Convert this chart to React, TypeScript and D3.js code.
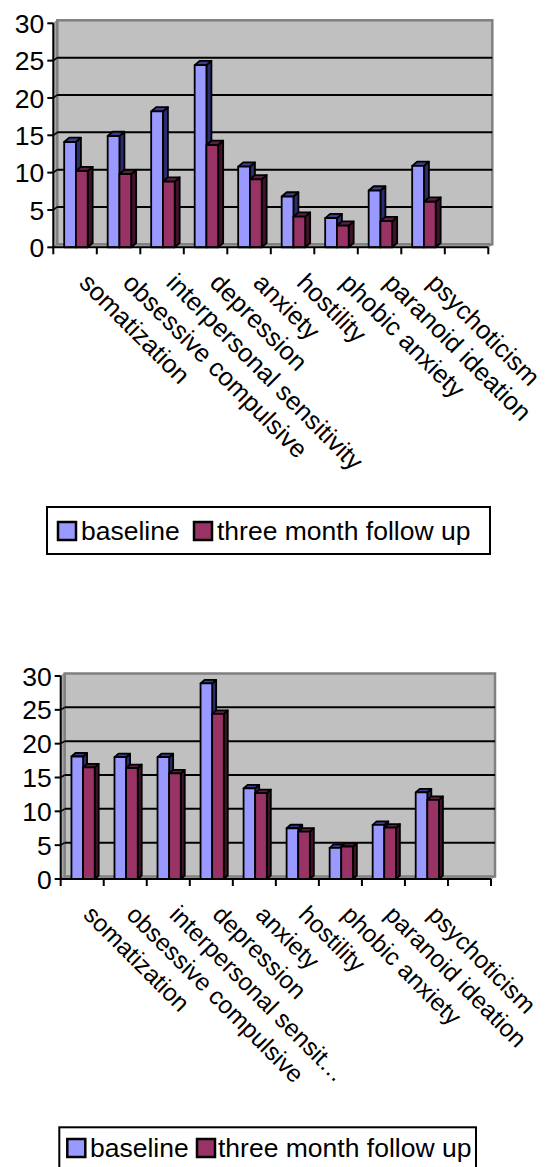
import React from "react";
import * as d3 from "d3";

// SCL-90 subscale scores, baseline vs. three month follow up
const categoriesTop = [
  "somatization",
  "obsessive compulsive",
  "interpersonal sensitivity",
  "depression",
  "anxiety",
  "hostility",
  "phobic anxiety",
  "paranoid ideation",
  "psychoticism",
];
const categoriesBottom = [
  "somatization",
  "obsessive compulsive",
  "interpersonal sensit…",
  "depression",
  "anxiety",
  "hostility",
  "phobic anxiety",
  "paranoid ideation",
  "psychoticism",
];
// the category axis has one trailing empty slot
const emptySlot = "";

const topBaseline = [14.1, 14.9, 18.2, 24.4, 10.8, 6.8, 3.9, 7.6, 10.9];
const topFollowUp = [10.2, 9.8, 8.8, 13.7, 9.1, 4.1, 2.9, 3.5, 6.1];
const bottomBaseline = [18.1, 18.0, 18.0, 28.9, 13.4, 7.5, 4.6, 8.0, 12.8];
const bottomFollowUp = [16.5, 16.4, 15.6, 24.4, 12.7, 7.0, 4.8, 7.6, 11.7];

const seriesNames = ["baseline", "three month follow up"];
const yTicks = [0, 5, 10, 15, 20, 25, 30];

const FONT = "'Liberation Sans', Arial, sans-serif";
const FS = 26.5;
const COLORS = [
  { front: "#9999FF", top: "#3C3C8C", side: "#2B2B6E" },
  { front: "#993366", top: "#5A1F3D", side: "#3F1229" },
];

type ChartProps = {
  labels: string[];
  series: number[][];
  x0: number;
  x1: number;
  yBottom: number;
  yTop: number;
  depth: [number, number];
  wall: [number, number];
  labelFs: number;
  labelDx: number;
  legend: { x: number; y: number; w: number; h: number; sw: number; t1: number; s2: number; t2: number; base: number };
};

function Chart({ labels, series, x0, x1, yBottom, yTop, depth, wall, labelFs, labelDx, legend }: ChartProps) {
  const slots = [...labels, emptySlot];
  const x = d3.scaleBand<string>().domain(slots.map((_, i) => String(i))).range([x0, x1]).padding(0);
  const y = d3.scaleLinear().domain([0, 30]).range([yBottom, yTop]);
  const bw = x.bandwidth();
  const barW = bw * 0.27;
  const [dx, dy] = depth;
  const [wx, wy] = wall;
  const y0 = y(0);
  const yMax = y(30);

  const pts = (p: number[][]) => p.map((q) => q.join(",")).join(" ");

  return (
    <g>
      {/* side wall, floor and back wall */}
      <polygon points={pts([[x0, yMax], [x0 + wx, yMax + wy], [x0 + wx, y0 + wy], [x0, y0]])} fill="#A6A6A6" stroke="#808080" strokeWidth={1} />
      <polygon points={pts([[x0, y0], [x0 + wx, y0 + wy], [x1 + wx, y0 + wy], [x1, y0]])} fill="#B4B4B4" stroke="#808080" strokeWidth={1} />
      <rect x={x0 + wx} y={yMax + wy} width={x1 - x0} height={y0 - yMax} fill="#C0C0C0" stroke="#808080" strokeWidth={2.5} />
      {yTicks.filter((t) => t > 0 && t < 30).map((t) => (
        <g key={t}>
          <line x1={x0 + wx} x2={x1 + wx} y1={y(t) + wy} y2={y(t) + wy} stroke="#000" strokeWidth={2} />
          <line x1={x0} x2={x0 + wx} y1={y(t)} y2={y(t) + wy} stroke="#000" strokeWidth={1.5} />
        </g>
      ))}

      {/* 3D columns */}
      {labels.map((_, i) => (
        <g key={i}>
          {series.map((vals, s) => {
            const bx = (x(String(i)) as number) + bw * 0.25 + s * barW;
            const by = y(vals[i]);
            const c = COLORS[s];
            return (
              <g key={s} stroke="#000" strokeWidth={1.8} strokeLinejoin="round">
                <polygon points={pts([[bx + barW, by], [bx + barW + dx, by + dy], [bx + barW + dx, y0 + dy], [bx + barW, y0]])} fill={c.side} />
                <polygon points={pts([[bx, by], [bx + barW, by], [bx + barW + dx, by + dy], [bx + dx, by + dy]])} fill={c.top} />
                <rect x={bx} y={by} width={barW} height={y0 - by} fill={c.front} />
              </g>
            );
          })}
        </g>
      ))}

      {/* value axis */}
      <line x1={x0} x2={x0} y1={yMax} y2={y0} stroke="#000" strokeWidth={2} />
      {yTicks.map((t) => (
        <g key={t}>
          <line x1={x0 - 6} x2={x0} y1={y(t)} y2={y(t)} stroke="#000" strokeWidth={2} />
          <text x={x0 - 9} y={y(t)} dy="0.36em" textAnchor="end" fontFamily={FONT} fontSize={FS} fill="#000">
            {t}
          </text>
        </g>
      ))}

      {/* category axis */}
      <line x1={x0} x2={x1} y1={y0} y2={y0} stroke="#000" strokeWidth={2} />
      {slots.concat(["end"]).map((_, i) => {
        const tx = x0 + x.step() * i;
        return <line key={i} x1={tx} x2={tx} y1={y0} y2={y0 + 7} stroke="#000" strokeWidth={2} />;
      })}
      {labels.map((lab, i) => {
        const cx = (x(String(i)) as number) + bw / 2;
        const lx = cx + labelDx;
        const ly = y0 + 37;
        return (
          <text key={i} x={lx} y={ly} transform={`rotate(45 ${lx} ${ly})`} fontFamily={FONT} fontSize={labelFs} fill="#000">
            {lab}
          </text>
        );
      })}

      {/* legend */}
      <rect x={legend.x} y={legend.y} width={legend.w} height={legend.h} fill="#fff" stroke="#000" strokeWidth={2} />
      <rect x={legend.x + legend.sw} y={legend.base - 18} width={18} height={18} fill={COLORS[0].front} stroke="#000" strokeWidth={2.5} />
      <text x={legend.t1} y={legend.base} fontFamily={FONT} fontSize={FS} fill="#000">{seriesNames[0]}</text>
      <rect x={legend.s2} y={legend.base - 18} width={18} height={18} fill={COLORS[1].front} stroke="#000" strokeWidth={2.5} />
      <text x={legend.t2} y={legend.base} fontFamily={FONT} fontSize={FS} fill="#000">{seriesNames[1]}</text>
    </g>
  );
}

export default function App() {
  return (
    <div style={{ position: "absolute", left: 0, top: 0, width: 547, height: 1167, overflow: "hidden", background: "#fff" }}>
      <svg width={547} height={1167} style={{ display: "block" }}>
        <Chart
          labels={categoriesTop}
          series={[topBaseline, topFollowUp]}
          x0={53.3}
          x1={488.3}
          yBottom={247.3}
          yTop={23.3}
          depth={[5, -4.3]}
          wall={[4, -3]}
          labelFs={25.5}
          labelDx={3}
          legend={{ x: 47, y: 507, w: 443, h: 47, sw: 11, t1: 81, s2: 194, t2: 217, base: 540 }}
        />
        <Chart
          labels={categoriesBottom}
          series={[bottomBaseline, bottomFollowUp]}
          x0={60.7}
          x1={491}
          yBottom={879}
          yTop={676}
          depth={[4, -3.5]}
          wall={[4, -2.5]}
          labelFs={24.5}
          labelDx={0}
          legend={{ x: 59.3, y: 1127.3, w: 416.7, h: 47, sw: 8, t1: 90, s2: 197, t2: 218, base: 1157 }}
        />
      </svg>
    </div>
  );
}
